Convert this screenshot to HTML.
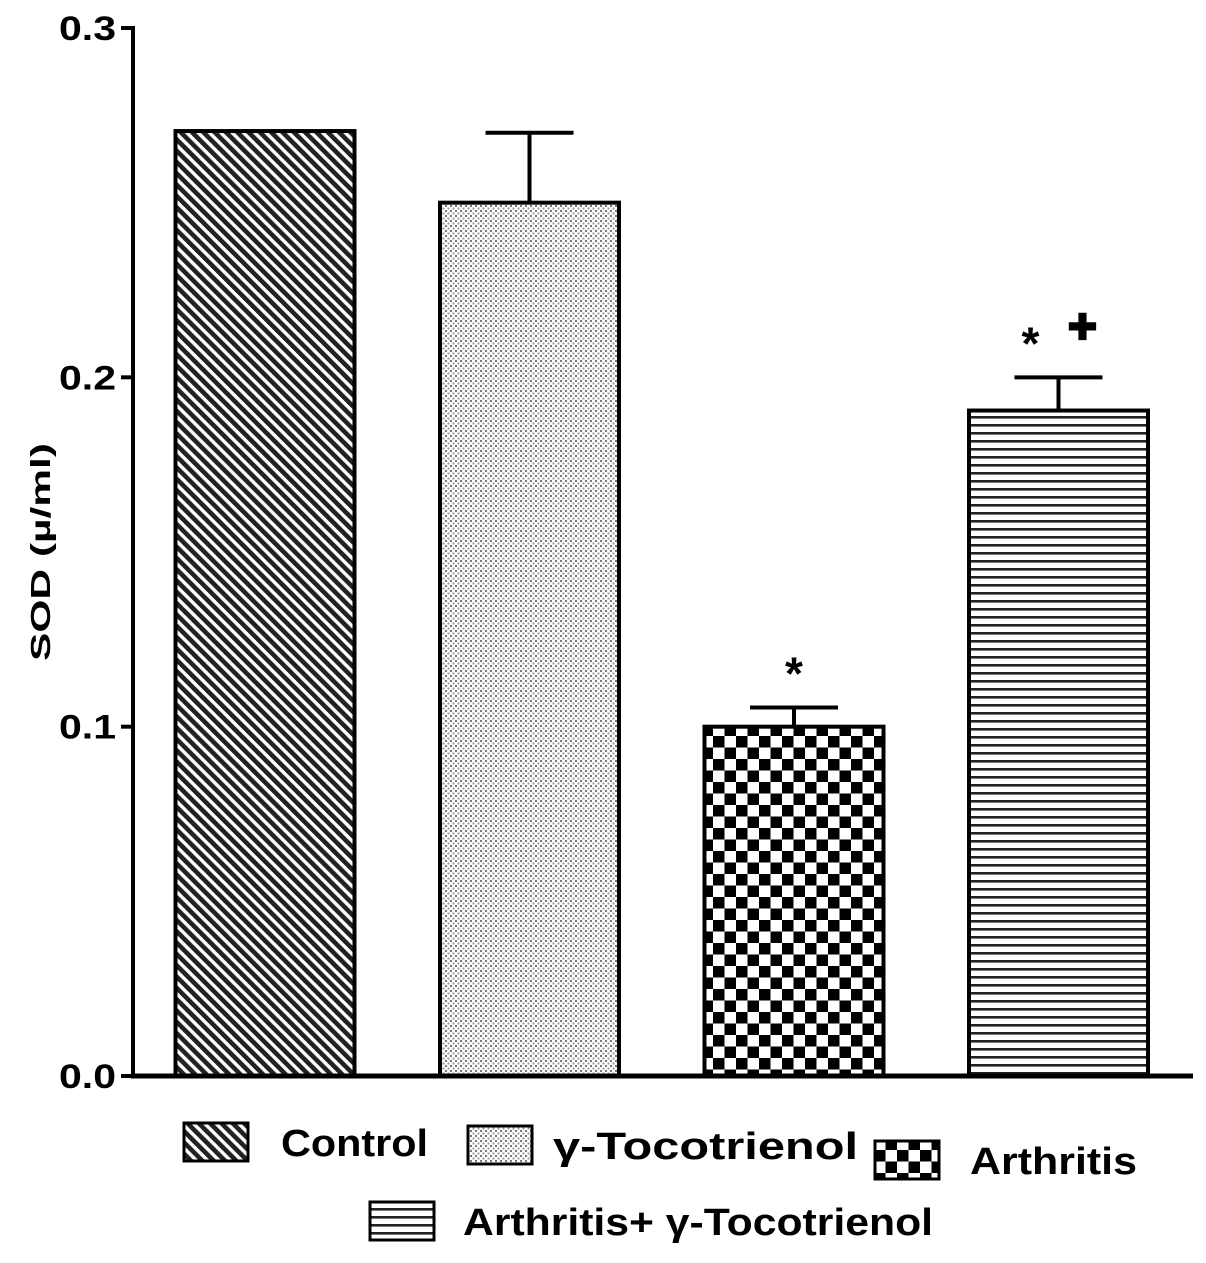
<!DOCTYPE html>
<html><head><meta charset="utf-8"><style>
html,body{margin:0;padding:0;background:#fff;}
svg{display:block;font-family:"Liberation Sans",sans-serif;}
</style></head><body>
<svg id="chart" width="1206" height="1263" viewBox="0 0 1206 1263" xmlns="http://www.w3.org/2000/svg">
<defs>
<pattern id="pDiag" patternUnits="userSpaceOnUse" width="8" height="8" patternTransform="rotate(-45)">
<rect width="8" height="8" fill="#fff"/><rect x="0" y="0" width="4.6" height="8" fill="#222"/>
</pattern>
<pattern id="pDots" patternUnits="userSpaceOnUse" width="5" height="5">
<rect width="5" height="5" fill="#fff"/><rect x="0" y="0" width="2" height="2" fill="#777"/><rect x="2.5" y="2.5" width="2" height="2" fill="#999"/>
</pattern>
<pattern id="pCheck" patternUnits="userSpaceOnUse" width="23" height="23">
<rect width="23" height="23" fill="#fff"/><rect x="0" y="0" width="11.5" height="11.5" fill="#000"/><rect x="11.5" y="11.5" width="11.5" height="11.5" fill="#000"/>
</pattern>
<pattern id="pHoriz" patternUnits="userSpaceOnUse" width="8" height="8">
<rect width="8" height="8" fill="#fff"/><rect x="0" y="0" width="8" height="2.6" fill="#222"/>
</pattern>
</defs>
<g id="plot"></g>
</svg>
<script>
const categories = ["Control", "γ-Tocotrienol", "Arthritis", "Arthritis+ γ-Tocotrienol"];
const means = [0.2705, 0.250, 0.100, 0.1905];
const errors = [0, 0.020, 0.0055, 0.0095];
const starMarks = ["", "", "*", "*"];
const plusMarks = ["", "", "", "✚"];
const yTicks = [0.0, 0.1, 0.2, 0.3];
const yTickLabels = ["0.0", "0.1", "0.2", "0.3"];

const fills = ["url(#pDiag)", "url(#pDots)", "url(#pCheck)", "url(#pHoriz)"];
const NS = "http://www.w3.org/2000/svg";
const g = document.getElementById("plot");
const y0 = 1076, yTop = 28, yMax = 0.3;
const y = v => y0 - (v / yMax) * (y0 - yTop);
const barCenters0 = 265, barStep = 264.5, barW = 179;
const xc = i => barCenters0 + i * barStep;
function el(tag, attrs){const e=document.createElementNS(NS,tag);for(const k in attrs)e.setAttribute(k,attrs[k]);g.appendChild(e);return e;}

categories.forEach((c,i)=>{
  const b = el("rect",{x:xc(i)-barW/2,y:y(means[i]),width:barW,height:y0-y(means[i]),fill:fills[i],stroke:"#000","stroke-width":4});
  
  
  if (errors[i] > 0) {
    const top = y(means[i] + errors[i]);
    const e1 = el("line",{x1:xc(i),x2:xc(i),y1:y(means[i]),y2:top,stroke:"#000","stroke-width":4});
    
    
    const e2 = el("line",{x1:xc(i)-44,x2:xc(i)+44,y1:top,y2:top,stroke:"#000","stroke-width":4});
    
    
  }
  const topV = y(means[i]+errors[i]);
  if (starMarks[i]) {
    const sx = plusMarks[i] ? xc(i)-28 : xc(i);
    const t = el("text",{x:sx,y:topV-18,"text-anchor":"middle","font-size":46,"font-weight":"bold"});
    t.textContent = starMarks[i];
    
    
  }
  if (plusMarks[i]) {
    const t = el("text",{x:xc(i)+24,y:topV-38,"text-anchor":"middle","font-size":36,"font-weight":"bold"});
    t.textContent = plusMarks[i];
    
    
  }
});

const ya = el("line",{x1:133,x2:133,y1:yTop-2,y2:y0+2,stroke:"#000","stroke-width":4});


const xa = el("line",{x1:131,x2:1193,y1:y0,y2:y0,stroke:"#000","stroke-width":5});


yTicks.forEach((v,i)=>{
  const tk = el("line",{x1:121,x2:133,y1:y(v),y2:y(v),stroke:"#000","stroke-width":4});
  
  
  const t = el("text",{x:116,y:y(v)+12,"text-anchor":"end","font-size":34,"font-weight":"bold",textLength:57,lengthAdjust:"spacingAndGlyphs"});
  t.textContent = yTickLabels[i];
  
  
});
const yt = el("text",{x:0,y:0,transform:"translate(50,552) rotate(-90)","text-anchor":"middle","font-size":28,"font-weight":"bold",textLength:218,lengthAdjust:"spacingAndGlyphs"});
yt.textContent = "SOD (µ/ml)";



const legendPos = [[184,1123,281,147],[468,1126,553,305],[875,1141,970,167],[370,1202,463,470]];
categories.forEach((c,i)=>{
  const [sx,sy,tx,tw] = legendPos[i];
  const s = el("rect",{x:sx,y:sy,width:64,height:38,fill:fills[i],stroke:"#000","stroke-width":3});
  
  
  const t = el("text",{x:tx,y:sy+33,"font-size":38,"font-weight":"bold",textLength:tw,lengthAdjust:"spacingAndGlyphs"});
  t.textContent = c;
  
  
});
</script>
</body></html>
